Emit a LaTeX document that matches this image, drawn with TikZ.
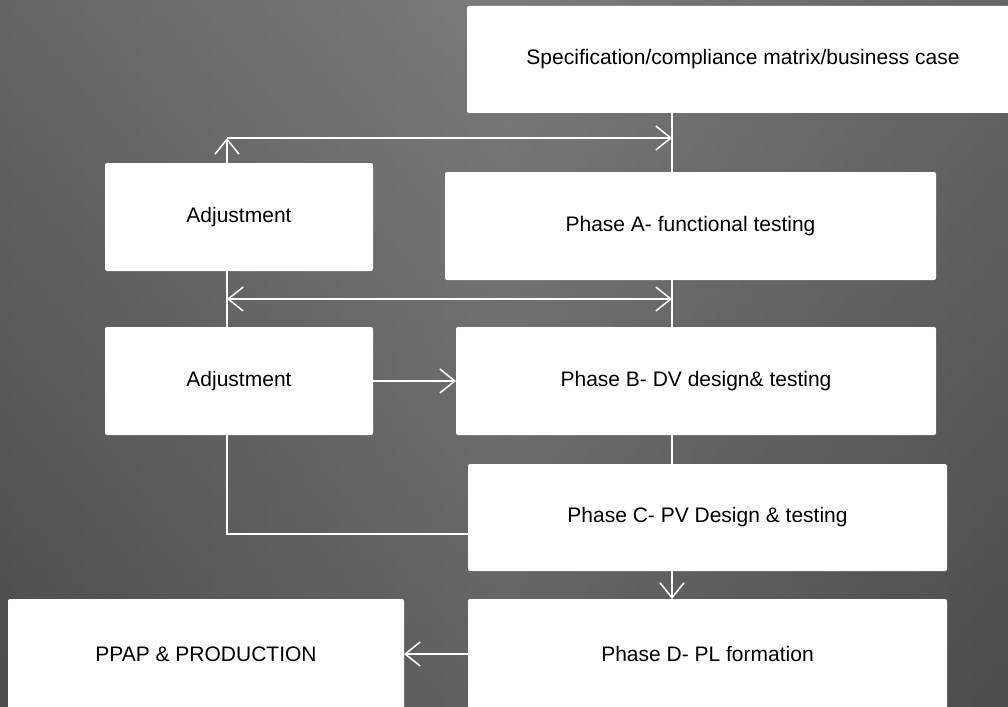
\documentclass[tikz,border=0pt]{standalone}
\usepackage{fontspec}
\setmainfont{Liberation Sans}
\usetikzlibrary{arrows.meta}
\begin{document}
\begin{tikzpicture}[x=1pt,y=-1pt,
  box/.style={fill=white, rounded corners=2pt, inner sep=0pt, outer sep=0pt,
    font=\fontsize{21}{25}\selectfont, text=black},
  conn/.style={draw=white, line width=1.5pt},
  tip/.style={conn, -{Straight Barb[length=15pt,width=24pt,line width=1.5pt]}},
  tips/.style={conn, {Straight Barb[length=15pt,width=24pt,line width=1.5pt]}-{Straight Barb[length=15pt,width=24pt,line width=1.5pt]}}
]
\useasboundingbox (0,0) rectangle (1008,706);
\clip (0,0) rectangle (1008,706);
\shade[top color=black!48, bottom color=black!68] (0,0) rectangle (1008,706);
\shade[left color=black!72, right color=black!72, middle color=black!55, opacity=0.5] (0,0) rectangle (1008,706);

\node[box, minimum width=552pt, minimum height=107pt] (spec) at (743,59.5) {Specification/compliance matrix/business case};
\node[box, minimum width=268pt, minimum height=108pt] (adj1) at (239,217) {Adjustment};
\node[box, minimum width=491pt, minimum height=108pt] (pha) at (690.5,226) {Phase A- functional testing};
\node[box, minimum width=268pt, minimum height=108pt] (adj2) at (239,381) {Adjustment};
\node[box, minimum width=480pt, minimum height=108pt] (phb) at (696,381) {Phase B- DV design\& testing};
\node[box, minimum width=479pt, minimum height=107pt] (phc) at (707.5,517.5) {Phase C- PV Design \& testing};
\node[box, minimum width=479pt, minimum height=110pt] (phd) at (707.5,654) {Phase D- PL formation};
\node[box, minimum width=396pt, minimum height=110pt] (ppap) at (206,654) {PPAP \& PRODUCTION};

\coordinate (vx) at (672,0);
\coordinate (t1) at (227,138);
\coordinate (t2) at (672,138);
\coordinate (m1) at (227,299);
\coordinate (m2) at (672,299);
\coordinate (b1) at (227,534);

\draw[conn] (spec.south -| vx) -- (pha.north -| vx);
\draw[conn] (pha.south -| vx) -- (phb.north -| vx);
\draw[conn] (phb.south -| vx) -- (phc.north -| vx);
\draw[tip] (phc.south -| vx) -- (phd.north -| vx);

\draw[tip] (adj1.north -| t1) -- (t1);
\draw[tip] (t1) -- (t2);

\draw[conn] (adj1.south -| m1) -- (adj2.north -| m1);
\draw[tips] (m1) -- (m2);

\draw[tip] (adj2.east) -- (phb.west);
\draw[conn] (adj2.south -| b1) -- (b1) -- (b1 -| phc.west);
\draw[tip] (phd.west) -- (ppap.east);
\end{tikzpicture}
\end{document}
